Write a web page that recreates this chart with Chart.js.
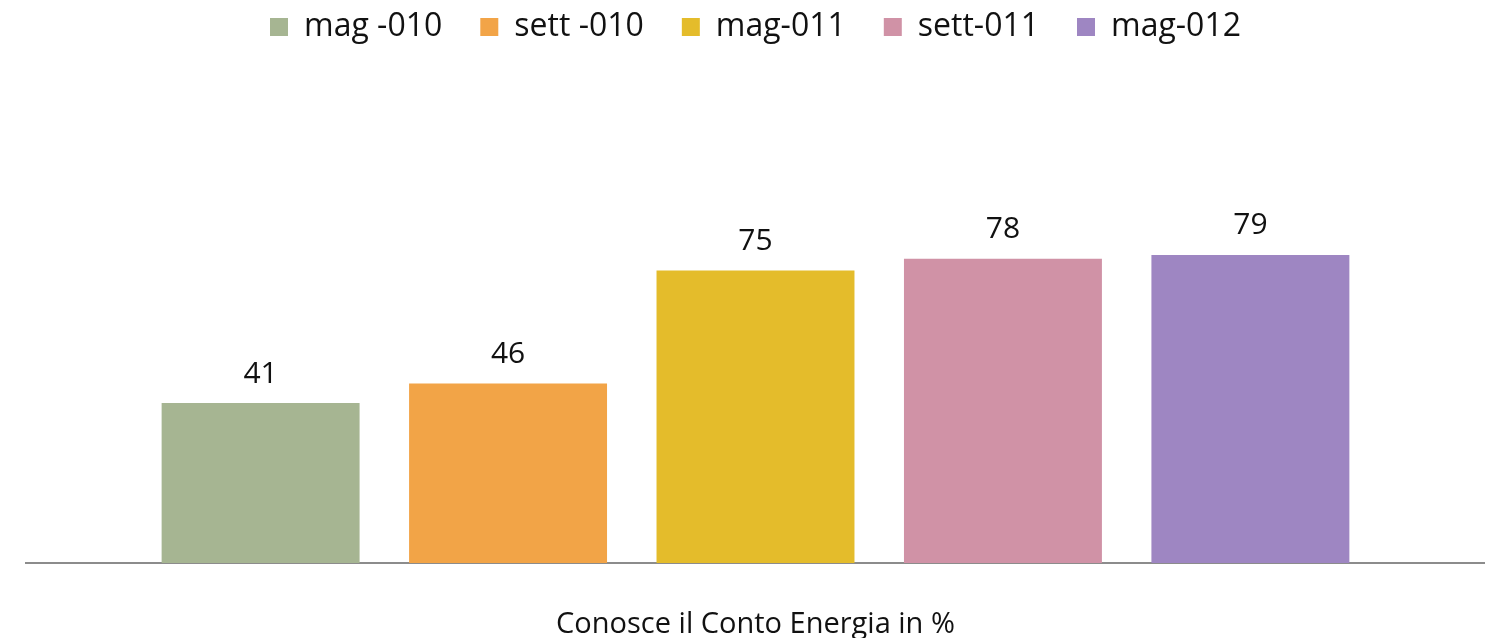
<!DOCTYPE html>
<html>
<head>
<meta charset="utf-8">
<script src="https://cdn.jsdelivr.net/npm/chart.js@4.4.0/dist/chart.umd.min.js"></script>
<style>
    html, body { margin: 0; padding: 0; background: #fff; }
    #wrap { width: 1485px; height: 638px; }
</style>
</head>
<body>
<div id="wrap"><canvas id="chart"></canvas></div>
<script>
// ======================= Data =======================
const categories = ["Conosce il Conto Energia in %"];
const seriesNames = ["mag -010", "sett -010", "mag-011", "sett-011", "mag-012"];
const seriesValues = [41, 46, 75, 78, 79];
const seriesColors = ["#a6b592", "#f2a447", "#e4bc2b", "#d092a6", "#9e86c2"];

const FONT = "'Open Sans', Lato, sans-serif";

// value labels above each bar
const valueLabels = {
    id: "valueLabels",
    afterDatasetsDraw(chart) {
        const ctx = chart.ctx;
        ctx.save();
        ctx.font = `30px ${FONT}`;
        ctx.fillStyle = "#111";
        ctx.textAlign = "center";
        ctx.textBaseline = "bottom";
        chart.data.datasets.forEach((ds, i) => {
            chart.getDatasetMeta(i).data.forEach((bar, j) => {
                ctx.fillText(ds.data[j], bar.x, bar.y - 14);
            });
        });
        ctx.restore();
    }
};

// extra room under the legend
const legendGap = {
    id: "legendGap",
    beforeInit(chart) {
        const fit = chart.legend.fit;
        chart.legend.fit = function () {
            fit.bind(chart.legend)();
            this.height += 120;
        };
    }
};

new Chart(document.getElementById("chart"), {
    type: "bar",
    data: {
        labels: categories,
        datasets: seriesNames.map((name, i) => ({
            label: name,
            data: [seriesValues[i]],
            backgroundColor: seriesColors[i],
            barPercentage: 0.8,
            categoryPercentage: 0.848
        }))
    },
    options: {
        responsive: true,
        maintainAspectRatio: false,
        animation: false,
        layout: { padding: { left: 26, right: 0, top: -27, bottom: 0 } },
        plugins: {
            legend: {
                position: "top",
                labels: {
                    font: { family: FONT, size: 32 },
                    color: "#111",
                    boxWidth: 18,
                    boxHeight: 18,
                    padding: 38
                }
            },
            tooltip: { enabled: false }
        },
        scales: {
            x: {
                grid: { display: false },
                border: { display: true, color: "#8c8c8c", width: 2 },
                ticks: {
                    font: { family: FONT, size: 29 },
                    color: "#111",
                    padding: 36
                },
                afterFit(scale) {
                    scale.height = 75;
                }
            },
            y: {
                display: false,
                min: 0,
                max: 100
            }
        }
    },
    plugins: [valueLabels, legendGap]
});
</script>
</body>
</html>
